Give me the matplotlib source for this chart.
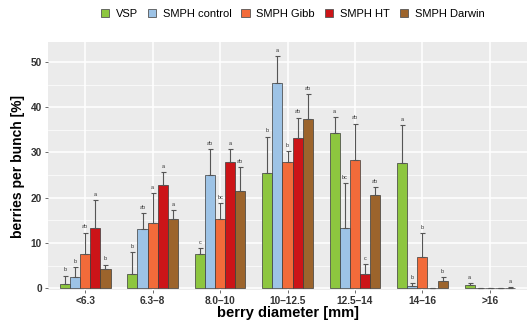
import numpy as np
import matplotlib
matplotlib.use("Agg")
import matplotlib.pyplot as plt
from matplotlib.patches import Patch

plt.rcParams['font.family'] = ['Liberation Sans', 'DejaVu Sans']

categories = ['<6.3', '6.3–8', '8.0–10', '10–12.5', '12.5–14', '14–16', '>16']
groups = ['VSP', 'SMPH control', 'SMPH Gibb', 'SMPH HT', 'SMPH Darwin']
colors = ['#8DC63F', '#9DC3E6', '#F26B3A', '#CC1418', '#9C642C']

# mean values [%] per group, one entry per diameter class
vsp = [0.9, 3.2, 7.5, 25.4, 34.2, 27.6, 0.6]
control = [2.4, 13.1, 25.0, 45.4, 13.4, 0.4, 0.0]
gibb = [7.5, 14.5, 15.4, 27.8, 28.3, 7.0, 0.0]
ht = [13.4, 22.8, 28.0, 33.1, 3.1, 0.0, 0.0]
darwin = [4.2, 15.4, 21.5, 37.3, 20.6, 1.5, 0.1]

# upper error (sd)
vsp_err = [1.9, 4.7, 1.3, 8.1, 3.7, 8.4, 0.6]
control_err = [2.3, 3.5, 5.7, 5.9, 9.8, 0.8, 0.0]
gibb_err = [4.8, 6.5, 3.5, 2.5, 8.1, 5.2, 0.0]
ht_err = [6.1, 2.9, 2.7, 4.6, 2.2, 0.0, 0.0]
darwin_err = [1.0, 1.9, 5.3, 5.7, 1.8, 1.0, 0.2]

# significance letters
vsp_let = ['b', 'b', 'c', 'b', 'a', 'a', 'a']
control_let = ['b', 'ab', 'ab', 'a', 'bc', 'b', '']
gibb_let = ['ab', 'a', 'bc', 'b', 'ab', 'b', '']
ht_let = ['a', 'a', 'a', 'ab', 'c', '', '']
darwin_let = ['b', 'a', 'ab', 'ab', 'ab', 'b', 'a']

means = [vsp, control, gibb, ht, darwin]
errs = [vsp_err, control_err, gibb_err, ht_err, darwin_err]
letters = [vsp_let, control_let, gibb_let, ht_let, darwin_let]

fig = plt.figure(figsize=(5.29, 3.24), dpi=100)
ax = fig.add_axes([0.091, 0.105, 0.905, 0.765])
ax.set_facecolor('#EBEBEB')

x = np.arange(len(categories))
w = 0.15
for i in range(5):
    pos = x + (i - 2) * w
    ax.bar(pos, means[i], width=w, color=colors[i], edgecolor='#3a3a3a',
           linewidth=0.5, zorder=3)
    tops = np.array(means[i]) + np.array(errs[i])
    ax.errorbar(pos, means[i], yerr=[np.zeros(len(x)), errs[i]], fmt='none',
                ecolor='#555555', elinewidth=0.8, capsize=1.8, capthick=0.8,
                zorder=4)
    for p, t, l in zip(pos, tops, letters[i]):
        if l:
            ax.text(p, t + 0.7, l, ha='center', va='bottom', fontsize=4,
                    color='#333333', zorder=5)

ax.set_xlim(-0.55, 6.55)
ax.set_ylim(-0.4, 54.4)
ax.set_xticks(x)
ax.set_xticklabels(categories)
ax.set_yticks([0, 10, 20, 30, 40, 50])
ax.set_yticks([5, 15, 25, 35, 45], minor=True)
ax.grid(which='major', color='white', linewidth=1.1, zorder=0)
ax.grid(which='minor', axis='y', color='white', linewidth=0.5, zorder=0)
ax.set_axisbelow(True)
for s in ax.spines.values():
    s.set_visible(False)
ax.tick_params(axis='both', which='major', length=2.5, width=0.6, color='#555555',
               labelsize=7.3, labelcolor='#333333', pad=2)
ax.tick_params(axis='both', which='minor', length=0)
for lab in ax.get_xticklabels() + ax.get_yticklabels():
    lab.set_fontweight('bold')

ax.set_xlabel('berry diameter [mm]', fontsize=10.5, fontweight='bold', labelpad=0)
ax.set_ylabel('berries per bunch [%]', fontsize=10, fontweight='bold', labelpad=4)

handles = [Patch(facecolor=c, edgecolor='#555555', linewidth=0.6) for c in colors]
fig.legend(handles, groups, loc='center', bbox_to_anchor=(0.553, 0.957), ncol=5,
           frameon=False, fontsize=8, handlelength=0.75, handleheight=0.75,
           handletextpad=0.6, columnspacing=0.9)

fig.savefig('out.png', dpi=100)
